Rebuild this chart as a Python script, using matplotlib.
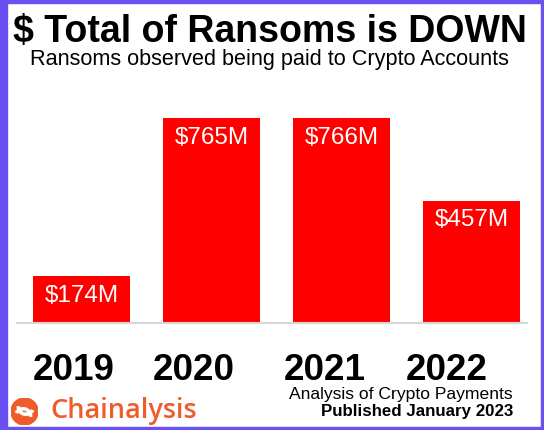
import matplotlib.pyplot as plt
from matplotlib.patches import Rectangle, Arc, Circle

plt.rcParams['font.family'] = ['Liberation Sans', 'DejaVu Sans']

# data
years = ['2019', '2020', '2021', '2022']
ransoms = [174, 765, 766, 457]  # millions USD
year_shift = [-0.06, -0.14, -0.13, -0.19]  # year labels sit a bit left of the bars

W, H = 544, 430
fig = plt.figure(figsize=(W / 100, H / 100), dpi=100)


def fx(px):
    return px / W


def fy(py):
    return 1 - py / H


# bar area
ax = fig.add_axes([fx(17), fy(323), fx(510), (323 - 90) / H])
x = range(len(years))
ax.bar(x, ransoms, width=0.745, color='#ff0000')
ax.set_xlim(-0.496, 3.423)
ax.set_ylim(0, 871)
ax.axhline(0, color='#d6d6d6', lw=1.5, clip_on=False)
for s in ax.spines.values():
    s.set_visible(False)
ax.set_xticks([])
ax.set_yticks([])

for i, v in enumerate(ransoms):
    ax.annotate(f'${v}M', (i, v), xytext=(0, -14), textcoords='offset points',
                ha='center', va='center', color='white', fontsize=17.5)
    ax.annotate(years[i], (i + year_shift[i], 0), xytext=(0, -41), textcoords='offset points',
                ha='center', va='baseline', fontsize=26.5, fontweight='bold',
                annotation_clip=False)

# titles
fig.text(fx(270), fy(42), '$ Total of Ransoms is DOWN', ha='center', va='baseline',
         fontsize=27, fontweight='bold')
fig.text(fx(269), fy(65), 'Ransoms observed being paid to Crypto Accounts', ha='center',
         va='baseline', fontsize=15.6)

# footer
fig.text(fx(513), fy(399), 'Analysis of Crypto Payments', ha='right', va='baseline', fontsize=12.6)
fig.text(fx(513), fy(416), 'Published January 2023', ha='right', va='baseline',
         fontsize=12.2, fontweight='bold')

orange = '#ef5b2b'
fig.text(fx(50), fy(418), 'Chainalysis', ha='left', va='baseline', fontsize=19.5,
         color=orange, family=['Open Sans', 'DejaVu Sans'], fontweight='semibold')

# little logo mark
logo = fig.add_axes([fx(10), fy(425), fx(29), 27 / H])
logo.set_xlim(-1, 1)
logo.set_ylim(-1, 1)
logo.set_aspect('equal')
logo.axis('off')
logo.add_patch(Circle((0, 0), 1, color=orange))
logo.add_patch(Arc((0.1, 0.3), 1.1, 1.0, theta1=170, theta2=340, lw=2.6, color='white'))
logo.add_patch(Arc((-0.1, -0.3), 1.1, 1.0, theta1=-10, theta2=160, lw=2.6, color='white'))

# frame
border = '#6a50f2'
fig.patches.extend([
    Rectangle((0, 0), fx(7), 1, transform=fig.transFigure, color=border),
    Rectangle((0, fy(3)), 1, 3 / H, transform=fig.transFigure, color=border),
    Rectangle((fx(541), 0), fx(3), 1, transform=fig.transFigure, color=border),
    Rectangle((0, 0), 1, 3 / H, transform=fig.transFigure, color=border),
])

fig.savefig('out.png', dpi=100)
